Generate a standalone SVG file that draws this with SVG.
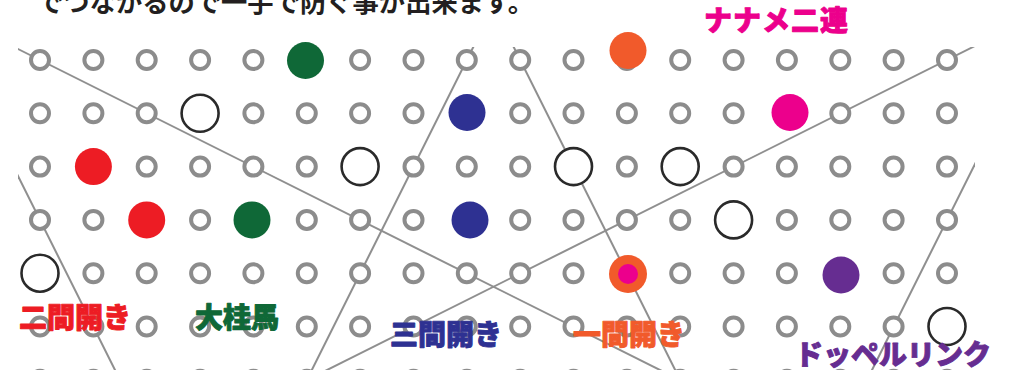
<svg xmlns="http://www.w3.org/2000/svg" xmlns:xlink="http://www.w3.org/1999/xlink" width="1014" height="370" viewBox="0 0 1014 370">
<style>
.pt{fill:#fff;stroke:#8c8c8c;stroke-width:4}
.ring{fill:#fff;stroke:#2a2a2a;stroke-width:2.6}
.ln{stroke:#8f8f8f;stroke-width:2;fill:none}
.lb{font-family:"Noto Sans CJK JP","Noto Sans",sans-serif;font-weight:900;font-size:28px;stroke-width:0.9;stroke-linejoin:round}
.st{stroke:none}
</style>
<defs>
<circle id="c" class="pt" cx="0" cy="0" r="9"/>
<clipPath id="board"><rect x="18" y="47" width="957" height="330"/></clipPath>
</defs>
<rect width="1014" height="370" fill="#fff"/>
<text x="37" y="12" font-family="'Noto Sans CJK JP',sans-serif" font-weight="700" font-size="26.3" fill="#231f20">でつながるので一手で防ぐ事が出来ます。</text>
<text class="lb" x="704" y="31" fill="#ec008c" stroke="#ec008c" letter-spacing="1">ナナメ二連</text>
<g id="connectors" clip-path="url(#board)">
<line class="ln" x1="0" y1="40" x2="700" y2="390"/>
<line class="ln" x1="496.8" y1="0" x2="301.8" y2="390"/>
<line class="ln" x1="490.2" y1="0" x2="685.2" y2="390"/>
<line class="ln" x1="1014" y1="26.5" x2="280" y2="393.5"/>
<line class="ln" x1="-20" y1="100" x2="125" y2="390"/>
<line class="ln" x1="1007" y1="100" x2="862" y2="390"/>
</g>
<g id="grid">
<use href="#c" x="40" y="60"/><use href="#c" x="93.4" y="60"/><use href="#c" x="146.7" y="60"/><use href="#c" x="200.1" y="60"/><use href="#c" x="253.4" y="60"/><use href="#c" x="306.8" y="60"/><use href="#c" x="360.1" y="60"/><use href="#c" x="413.5" y="60"/><use href="#c" x="466.8" y="60"/><use href="#c" x="520.2" y="60"/><use href="#c" x="573.5" y="60"/><use href="#c" x="626.9" y="60"/><use href="#c" x="680.2" y="60"/><use href="#c" x="733.6" y="60"/><use href="#c" x="786.9" y="60"/><use href="#c" x="840.3" y="60"/><use href="#c" x="893.6" y="60"/><use href="#c" x="947" y="60"/>
<use href="#c" x="40" y="113.3"/><use href="#c" x="93.4" y="113.3"/><use href="#c" x="146.7" y="113.3"/><use href="#c" x="253.4" y="113.3"/><use href="#c" x="306.8" y="113.3"/><use href="#c" x="360.1" y="113.3"/><use href="#c" x="413.5" y="113.3"/><use href="#c" x="466.8" y="113.3"/><use href="#c" x="520.2" y="113.3"/><use href="#c" x="573.5" y="113.3"/><use href="#c" x="626.9" y="113.3"/><use href="#c" x="680.2" y="113.3"/><use href="#c" x="733.6" y="113.3"/><use href="#c" x="786.9" y="113.3"/><use href="#c" x="840.3" y="113.3"/><use href="#c" x="893.6" y="113.3"/><use href="#c" x="947" y="113.3"/>
<use href="#c" x="40" y="166.6"/><use href="#c" x="93.4" y="166.6"/><use href="#c" x="146.7" y="166.6"/><use href="#c" x="200.1" y="166.6"/><use href="#c" x="253.4" y="166.6"/><use href="#c" x="306.8" y="166.6"/><use href="#c" x="413.5" y="166.6"/><use href="#c" x="466.8" y="166.6"/><use href="#c" x="520.2" y="166.6"/><use href="#c" x="626.9" y="166.6"/><use href="#c" x="733.6" y="166.6"/><use href="#c" x="786.9" y="166.6"/><use href="#c" x="840.3" y="166.6"/><use href="#c" x="893.6" y="166.6"/><use href="#c" x="947" y="166.6"/>
<use href="#c" x="40" y="219.9"/><use href="#c" x="93.4" y="219.9"/><use href="#c" x="146.7" y="219.9"/><use href="#c" x="200.1" y="219.9"/><use href="#c" x="253.4" y="219.9"/><use href="#c" x="306.8" y="219.9"/><use href="#c" x="360.1" y="219.9"/><use href="#c" x="413.5" y="219.9"/><use href="#c" x="466.8" y="219.9"/><use href="#c" x="520.2" y="219.9"/><use href="#c" x="573.5" y="219.9"/><use href="#c" x="626.9" y="219.9"/><use href="#c" x="680.2" y="219.9"/><use href="#c" x="786.9" y="219.9"/><use href="#c" x="840.3" y="219.9"/><use href="#c" x="893.6" y="219.9"/><use href="#c" x="947" y="219.9"/>
<use href="#c" x="93.4" y="273.2"/><use href="#c" x="146.7" y="273.2"/><use href="#c" x="200.1" y="273.2"/><use href="#c" x="253.4" y="273.2"/><use href="#c" x="306.8" y="273.2"/><use href="#c" x="360.1" y="273.2"/><use href="#c" x="413.5" y="273.2"/><use href="#c" x="466.8" y="273.2"/><use href="#c" x="520.2" y="273.2"/><use href="#c" x="573.5" y="273.2"/><use href="#c" x="626.9" y="273.2"/><use href="#c" x="680.2" y="273.2"/><use href="#c" x="733.6" y="273.2"/><use href="#c" x="786.9" y="273.2"/><use href="#c" x="840.3" y="273.2"/><use href="#c" x="893.6" y="273.2"/><use href="#c" x="947" y="273.2"/>
<use href="#c" x="40" y="326.5"/><use href="#c" x="93.4" y="326.5"/><use href="#c" x="146.7" y="326.5"/><use href="#c" x="200.1" y="326.5"/><use href="#c" x="253.4" y="326.5"/><use href="#c" x="306.8" y="326.5"/><use href="#c" x="360.1" y="326.5"/><use href="#c" x="413.5" y="326.5"/><use href="#c" x="466.8" y="326.5"/><use href="#c" x="520.2" y="326.5"/><use href="#c" x="573.5" y="326.5"/><use href="#c" x="626.9" y="326.5"/><use href="#c" x="680.2" y="326.5"/><use href="#c" x="733.6" y="326.5"/><use href="#c" x="786.9" y="326.5"/><use href="#c" x="840.3" y="326.5"/><use href="#c" x="893.6" y="326.5"/>
<use href="#c" x="40" y="379.8"/><use href="#c" x="93.4" y="379.8"/><use href="#c" x="146.7" y="379.8"/><use href="#c" x="200.1" y="379.8"/><use href="#c" x="253.4" y="379.8"/><use href="#c" x="306.8" y="379.8"/><use href="#c" x="360.1" y="379.8"/><use href="#c" x="413.5" y="379.8"/><use href="#c" x="466.8" y="379.8"/><use href="#c" x="520.2" y="379.8"/><use href="#c" x="573.5" y="379.8"/><use href="#c" x="626.9" y="379.8"/><use href="#c" x="680.2" y="379.8"/><use href="#c" x="733.6" y="379.8"/><use href="#c" x="786.9" y="379.8"/><use href="#c" x="840.3" y="379.8"/><use href="#c" x="893.6" y="379.8"/><use href="#c" x="947" y="379.8"/>
</g>
<g id="rings">
<circle class="ring" cx="200.1" cy="113.3" r="18.5"/>
<circle class="ring" cx="360.1" cy="166.6" r="18.5"/>
<circle class="ring" cx="573.5" cy="166.6" r="18.5"/>
<circle class="ring" cx="680.2" cy="166.6" r="18.5"/>
<circle class="ring" cx="733.6" cy="219.9" r="18.5"/>
<circle class="ring" cx="40" cy="273.2" r="18.5"/>
<circle class="ring" cx="947" cy="326.5" r="18.5"/>
</g>
<g id="niken">
<circle class="st" cx="93.4" cy="166.6" r="18.5" fill="#ed1c24"/>
<circle class="st" cx="146.7" cy="219.9" r="18.5" fill="#ed1c24"/>
<text class="lb" x="19" y="328" fill="#ed1c24" stroke="#ed1c24">二間開き</text>
</g>
<g id="ogeima">
<circle class="st" cx="305.5" cy="60.5" r="18.5" fill="#0f6837"/>
<circle class="st" cx="252" cy="219.9" r="18.5" fill="#0f6837"/>
<text class="lb" x="195" y="328" fill="#0f6837" stroke="#0f6837">大桂馬</text>
</g>
<g id="sanken">
<circle class="st" cx="467" cy="112.5" r="18.5" fill="#2e3192"/>
<circle class="st" cx="470" cy="220" r="18.5" fill="#2e3192"/>
<text class="lb" x="390" y="345" fill="#2e3192" stroke="#2e3192">三間開き</text>
</g>
<g id="ikken">
<circle class="st" cx="628" cy="50.5" r="18.5" fill="#f15a2b"/>
<circle class="st" cx="628" cy="274" r="19" fill="#f15a2b"/>
<circle class="st" cx="628" cy="274" r="10" fill="#ec008c"/>
<text class="lb" x="573" y="345" fill="#f15a2b" stroke="#f15a2b">一間開き</text>
</g>
<g id="naname">
<circle class="st" cx="790" cy="112.5" r="18.5" fill="#ec008c"/>
</g>
<g id="doppel">
<circle class="st" cx="841" cy="275" r="18.5" fill="#662d91"/>
<text class="lb" x="795" y="365" fill="#662d91" stroke="#662d91">ドッペルリンク</text>
</g>
</svg>
